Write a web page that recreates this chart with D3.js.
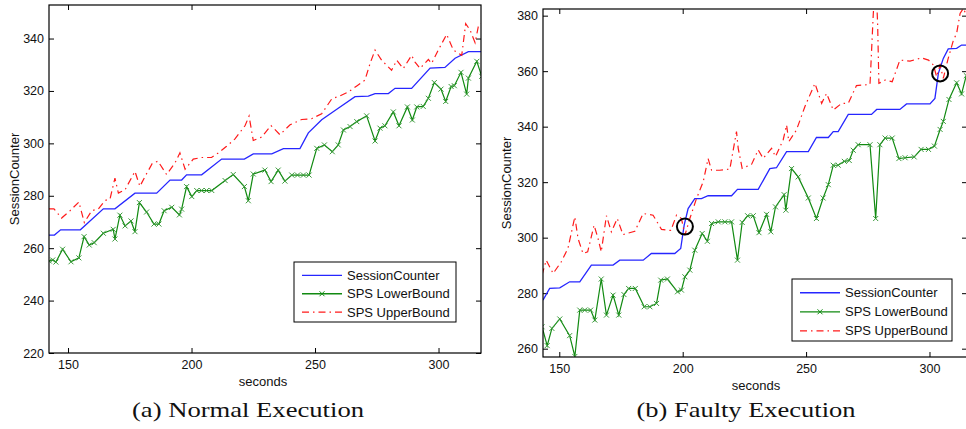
<!DOCTYPE html>
<html>
<head>
  <meta charset="utf-8" />
  <title>SessionCounter and SPS bounds</title>
  <script src="https://cdn.jsdelivr.net/npm/d3@7"></script>
  <style>
    body { margin: 0; background: #fff; }
    .axis path { display: none; }
    .axis line { stroke: #000; stroke-width: 1; }
    .axis text {
      font-family: "Liberation Sans", Arial, sans-serif;
      font-size: 12.5px;
      fill: #111;
    }
    .label, .legend text {
      font-family: "Liberation Sans", Arial, sans-serif;
      font-size: 13px;
      fill: #111;
    }
    .caption {
      font-family: "Liberation Serif", "Times New Roman", serif;
      font-size: 22px;
      fill: #111;
    }
  </style>
</head>
<body>
<svg id="chart" width="966" height="429"></svg>
<script>
  // ---- data ([seconds, value]) ----
  const xTicks = [150, 200, 250, 300];
  const yTicksNormal = [220, 240, 260, 280, 300, 320, 340];
  const yTicksFaulty = [260, 280, 300, 320, 340, 360, 380];
  const seriesNames = ["SessionCounter", "SPS LowerBound", "SPS UpperBound"];
  const captions = ["(a) Normal Execution", "(b) Faulty Execution"];

  const normalSession = [[142.3,265],[144.5,265],[147,267],[155,267],[164.3,275],[169,275],[177.1,281],[185.9,281],[191.3,286],[196,286],[198,288],[204.1,288],[212.2,294],[221.4,294],[225,296],[232.5,296],[237.2,298],[243.9,298],[247.3,304],[252.7,309],[259.4,313.4],[266.2,317.8],[271.6,318],[274.3,319],[279.7,319],[282.4,321],[289.1,321],[296.6,328.7],[302.6,329],[306.7,332.5],[312.1,335],[317.5,335]];

  const normalLower = [[142.4,255.1],[143.8,255.5],[145.1,254.7],[147.8,259.6],[151.2,254.8],[154.4,256.3],[156.5,264.4],[158.6,261.2],[160.6,262.1],[164.3,265.7],[168.3,267.2],[169,263.5],[171,272.6],[173.1,268.5],[175.5,270.4],[177.1,266.3],[178.9,277.4],[181.8,273.8],[184.8,269.2],[186.8,269.2],[188.9,274.3],[192,275.6],[195.1,272.7],[196,274.9],[198,283.5],[200.1,279.7],[202.1,282],[204.1,282],[206.1,282],[208.2,282],[213.6,285.8],[216.9,288.1],[221.4,283.5],[223,278.1],[225,288.3],[229.7,289.8],[232.2,285.4],[235.1,289.8],[237.8,285.6],[240.6,287.9],[242.9,287.9],[245.3,287.9],[247.6,287.9],[250.7,298.1],[253.8,299.4],[257,296.8],[259.4,299.4],[261.5,305.1],[264.2,306.4],[266.9,308.3],[270.9,310.5],[274.3,300.9],[276.3,305.8],[278.3,306.7],[281.7,312],[284,306.7],[287.4,313.9],[289.4,308.9],[291.2,313.9],[293.8,314.1],[295.9,317.2],[298.3,323.2],[301,320.7],[302.9,316],[305.1,321.7],[306.4,322],[309.1,327.1],[311.4,318.8],[312.1,324.9],[315.5,331.3],[317.5,325.6]];

  const normalUpper = [[142.3,275],[144.3,275],[147.4,271.5],[150.8,274.3],[154.4,277.6],[156.6,269.8],[159.6,274.3],[162.3,275],[165,278.2],[167,278.8],[169,286.7],[170.4,281],[173.1,282.3],[177.1,289.3],[179.1,283.6],[181.2,287.4],[184.1,292.3],[186.4,293.2],[189.9,288.1],[193.3,292.5],[195.3,296.4],[197.4,290.1],[200.7,294],[204.1,294.6],[208.1,294.6],[210.8,296.3],[214.2,298.9],[217.6,301.7],[221.7,306.8],[223.3,310.4],[225,301.1],[228.4,302.4],[232.2,306.8],[235.8,303.3],[239.9,307.1],[244.6,309.1],[248.6,309.4],[252.7,311.3],[256.8,317],[260.1,318.1],[263.5,319.6],[266.9,321.9],[270.2,324.1],[272.3,330.5],[274.3,335.6],[277,331.7],[281,327.9],[283.1,331.7],[285.7,328.5],[289.1,333.6],[290.5,331],[292.5,328.6],[295.9,332],[297.2,330.5],[299.9,335.6],[303.3,341.6],[306,335.6],[309.4,333.6],[311,345.7],[312.8,343.2],[314.8,338.4],[316.1,344.5],[317.5,346]];

  const faultySession = [[143.4,277.5],[146.1,281.7],[150.2,281.9],[154.2,284.1],[158.3,284.1],[163,290.1],[171.8,290.1],[174.5,291.9],[184,291.9],[187.3,294.3],[196.8,294.3],[199.2,296.1],[200.6,304.5],[202.2,310.5],[204.9,314.1],[207.6,314.1],[210.3,315.1],[219.8,315.1],[222.2,317.4],[230.6,317.4],[235.3,324.9],[238,325.2],[242.1,331],[250.9,331],[254.2,336.1],[259,336.1],[261,338.2],[263,338.2],[267.1,344.4],[276.5,344.4],[278.6,346.2],[288,346.2],[290.7,348.2],[300.2,348.2],[302.2,350.2],[303.6,359.2],[305.6,364.6],[307.6,368],[311,368.2],[313,369.4],[315,369.4]];

  const faultyLower = [[143,267.9],[145.1,261.1],[147,267.3],[150.2,270.7],[154.2,264.7],[156.3,257.2],[158.3,273.9],[160.3,273.9],[162.7,273.9],[164.4,270.3],[167,285.1],[169.1,272.1],[171.8,279.3],[174.1,272.1],[176.2,279.5],[178.1,281.7],[180.8,281.7],[184.4,275.1],[186.7,275.1],[189.4,276.3],[191.1,284.7],[193.8,285.1],[197.9,280.5],[199.5,281.1],[200.9,285.9],[202.9,288.3],[204.9,295.5],[207.9,301.5],[210,298.7],[211.7,305.1],[214.4,305.7],[217.1,305.7],[219.8,305.7],[222.2,291.9],[224.1,305.5],[226.3,307.9],[228.6,307.9],[230.9,301.8],[234,308.4],[235.7,302.1],[237.6,311.1],[241.1,315.5],[241.8,309.9],[244.1,324.9],[246.8,321.9],[250.9,314.3],[254.2,306.9],[256.9,314.3],[259,319.1],[261,326.1],[263,326.1],[265.5,327.5],[267.5,327.8],[269.1,331.5],[271.1,333.5],[275.9,333.5],[278.2,306.9],[279.9,333.5],[282,335.9],[284.9,335.9],[287.6,328.5],[290.1,328.8],[293.8,329.1],[296.6,331.8],[299.6,331.8],[302,333],[304.3,339],[305.6,341.9],[307.9,349.8],[311,355.8],[313,351.8],[314.9,358.4]];

  const faultyUpper = [[143,286.5],[144.7,291.9],[147.5,287.1],[150.8,291.3],[153.5,296.1],[156.3,307.5],[157.6,299.7],[159.6,294.3],[161.5,294.9],[164.1,304.5],[165.7,299.7],[167,294.9],[169.1,307.9],[171.1,302.1],[173.5,306.9],[175.8,301.1],[180.6,302.3],[184,308.7],[188,308.1],[191.4,303],[195.2,302.6],[197.5,308.1],[199.5,306.9],[200.9,300.9],[202.9,306.9],[205.6,314.1],[208.3,320.1],[210.3,328.5],[211.7,324.3],[215,324.3],[219.1,324.7],[221.8,338.2],[222.5,332.2],[224.1,325],[227.9,326.4],[230.6,331.6],[232.6,328.6],[236,332.2],[237.6,329.2],[240.7,335.2],[242.1,340.6],[243,334.6],[246.1,338.8],[249.5,347.2],[253.6,355.6],[256.3,348.4],[258.3,352],[261,346],[264.4,348.4],[267.1,348.4],[270.4,354.8],[275.9,355.2],[277.2,380.2],[278.2,395],[279,376.6],[279.5,355.6],[282,356.8],[284.9,356.2],[288,364],[292.1,363.6],[296.8,364.8],[299.6,364],[301.6,362.2],[302.9,358],[304.3,362.2],[305.6,357.4],[307.4,364],[309.7,371.2],[311,373.6],[312.4,380.8],[313.7,382.6],[315,380.2]];

  // circled fault points in (b)
  const faultMarks = [[200.9, 304], [304.3, 359.2]];

  // ---- drawing ----
  const svg = d3.select("#chart");
  const blue = "#2626ff", green = "#118a11", red = "#ff1a1a";
  const dashDot = "7,4,1.5,4";

  function drawPanel(p) {
    const x = d3.scaleLinear().domain(p.xDomain).range([p.left, p.right]);
    const y = d3.scaleLinear().domain(p.yDomain).range([p.bottom, p.top]);

    svg.append("clipPath").attr("id", "clip-" + p.id)
      .append("rect")
      .attr("x", p.left).attr("y", p.top)
      .attr("width", p.right - p.left).attr("height", p.bottom - p.top);

    const g = svg.append("g");

    // ticks point inwards, matlab style box
    g.append("g").attr("class", "axis")
      .attr("transform", "translate(0," + p.bottom + ")")
      .call(d3.axisBottom(x).tickValues(xTicks).tickSizeInner(-5).tickSizeOuter(0).tickPadding(7));
    g.append("g").attr("class", "axis")
      .attr("transform", "translate(0," + p.top + ")")
      .call(d3.axisTop(x).tickValues(xTicks).tickSizeInner(-5).tickSizeOuter(0).tickFormat(""));
    g.append("g").attr("class", "axis")
      .attr("transform", "translate(" + p.left + ",0)")
      .call(d3.axisLeft(y).tickValues(p.yTicks).tickSizeInner(-5).tickSizeOuter(0).tickPadding(5));
    g.append("g").attr("class", "axis")
      .attr("transform", "translate(" + p.right + ",0)")
      .call(d3.axisRight(y).tickValues(p.yTicks).tickSizeInner(-5).tickSizeOuter(0).tickFormat(""));

    const line = d3.line()
      .x(function (d) { return x(d[0]); })
      .y(function (d) { return y(d[1]); });

    const plot = g.append("g").attr("clip-path", "url(#clip-" + p.id + ")");

    plot.append("path").datum(p.session)
      .attr("fill", "none").attr("stroke", blue).attr("stroke-width", 1.3)
      .attr("d", line);

    plot.append("path").datum(p.upper)
      .attr("fill", "none").attr("stroke", red).attr("stroke-width", 1.2)
      .attr("stroke-dasharray", dashDot)
      .attr("d", line);

    plot.append("path").datum(p.lower)
      .attr("fill", "none").attr("stroke", green).attr("stroke-width", 1.2)
      .attr("d", line);

    plot.selectAll(".mk").data(p.lower).enter()
      .append("path")
      .attr("class", "mk")
      .attr("transform", function (d) { return "translate(" + x(d[0]) + "," + y(d[1]) + ")"; })
      .attr("d", "M-2.5,-2.5L2.5,2.5M-2.5,2.5L2.5,-2.5")
      .attr("stroke", "#3a9a3a").attr("stroke-width", 1);

    if (p.marks) {
      plot.selectAll(".fault").data(p.marks).enter()
        .append("circle")
        .attr("cx", function (d) { return x(d[0]); })
        .attr("cy", function (d) { return y(d[1]); })
        .attr("r", 8)
        .attr("fill", "none").attr("stroke", "#000").attr("stroke-width", 2);
    }

    // box
    g.append("rect")
      .attr("x", p.left).attr("y", p.top)
      .attr("width", p.right - p.left).attr("height", p.bottom - p.top)
      .attr("fill", "none").attr("stroke", "#000").attr("stroke-width", 1.2);

    // axis labels
    g.append("text").attr("class", "label")
      .attr("x", (p.left + p.right) / 2 + p.xLabelShift).attr("y", p.bottom + 33)
      .attr("text-anchor", "middle").text("seconds");
    g.append("text").attr("class", "label")
      .attr("transform", "translate(" + p.yLabelX + "," + (p.top + p.bottom) / 2 + ") rotate(-90)")
      .attr("text-anchor", "middle").text("SessionCounter");

    // legend
    const lg = g.append("g").attr("class", "legend")
      .attr("transform", "translate(" + p.legend[0] + "," + p.legend[1] + ")");
    lg.append("rect").attr("width", p.legend[2]).attr("height", p.legend[3])
      .attr("fill", "#fff").attr("stroke", "#000").attr("stroke-width", 1);
    const styles = [
      { color: blue, dash: null, marker: false },
      { color: green, dash: null, marker: true },
      { color: red, dash: dashDot, marker: false }
    ];
    const rowH = p.legend[3] / 3.25;
    seriesNames.forEach(function (name, i) {
      const ry = rowH * 0.72 + i * rowH;
      lg.append("line").attr("x1", 8).attr("x2", 48).attr("y1", ry).attr("y2", ry)
        .attr("stroke", styles[i].color).attr("stroke-width", 1.3)
        .attr("stroke-dasharray", styles[i].dash);
      if (styles[i].marker) {
        lg.append("path").attr("transform", "translate(28," + ry + ")")
          .attr("d", "M-2.5,-2.5L2.5,2.5M-2.5,2.5L2.5,-2.5")
          .attr("stroke", styles[i].color).attr("stroke-width", 1);
      }
      lg.append("text").attr("x", 53).attr("y", ry).attr("dy", "0.35em").text(name);
    });

    svg.append("text").attr("class", "caption")
      .attr("x", p.captionX).attr("y", 417)
      .attr("text-anchor", "middle")
      .attr("textLength", p.captionW).attr("lengthAdjust", "spacingAndGlyphs")
      .text(p.caption);
  }

  drawPanel({
    id: "a", left: 49, right: 481, top: 5, bottom: 353,
    xDomain: [142.3, 317.2], yDomain: [220, 352.8], yTicks: yTicksNormal,
    session: normalSession, lower: normalLower, upper: normalUpper,
    legend: [294, 262, 162, 60], xLabelShift: -2, yLabelX: 19,
    caption: captions[0], captionX: 248, captionW: 232
  });

  drawPanel({
    id: "b", left: 543, right: 967, top: 9, bottom: 357,
    xDomain: [143.4, 315.2], yDomain: [257, 382.4], yTicks: yTicksFaulty,
    session: faultySession, lower: faultyLower, upper: faultyUpper,
    marks: faultMarks,
    legend: [792, 279, 160, 62], xLabelShift: 1, yLabelX: 511,
    caption: captions[1], captionX: 746, captionW: 219
  });
</script>
</body>
</html>
